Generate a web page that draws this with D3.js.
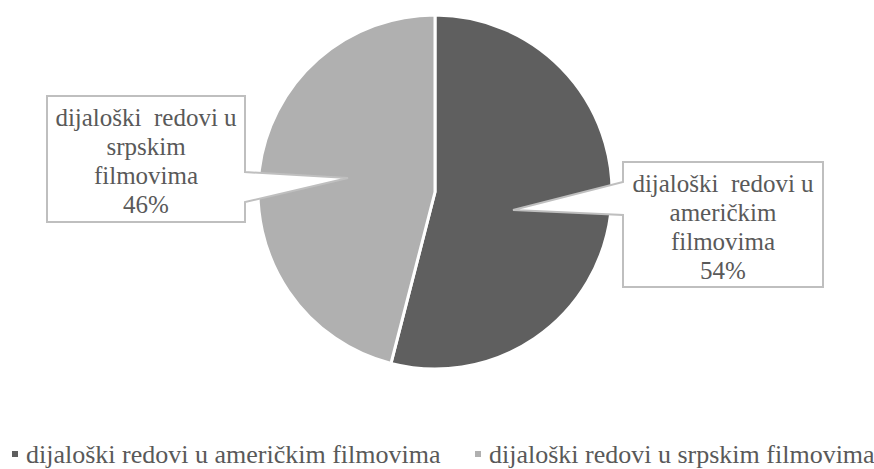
<!DOCTYPE html>
<html>
<head>
<meta charset="utf-8">
<script src="https://cdn.jsdelivr.net/npm/d3@7"></script>
<style>
  svg, svg text, svg tspan { font-family: "Liberation Serif" !important; }
</style>
</head>
<body style="margin:0; background:#fff;">
<svg class="chart" width="874" height="469" font-family="Liberation Serif"></svg>
<script>
var width = 874, height = 469;

var categories = ["dijaloški redovi u američkim filmovima", "dijaloški redovi u srpskim filmovima"];
var values = [54, 46];
var label_lines = [
  ["dijaloški  redovi u", "američkim", "filmovima"],
  ["dijaloški  redovi u", "srpskim", "filmovima"]
];
var colors = ["#5f5f5f", "#b0b0b0"];

var text_color = "#595959";

var cx = 435, cy = 192, radius = 177;

// callout boxes: box rect, pointer tip, pointer base (y range) on the side facing the pie
var callouts = [
  {x: 623, y: 162, w: 200, h: 125, side: "left", tip: [513, 210], base: [182, 215]},
  {x: 47, y: 96, w: 198, h: 126, side: "right", tip: [348, 178], base: [172, 202]}
];
var line_gap = 29;

var svg = d3.select("svg.chart");

var pie = d3.pie().sort(null).value(function(d){ return d; });
var arc = d3.arc().innerRadius(0).outerRadius(radius);

var g = svg.append("g").attr("transform", "translate(" + cx + "," + cy + ")");

g.selectAll(".slice")
    .data(pie(values))
  .enter().append("path")
    .attr("class", "slice")
    .attr("d", arc)
    .attr("fill", function(d, i){ return colors[i]; })
    .attr("stroke", "#fff")
    .attr("stroke-width", 3)
    .attr("stroke-linejoin", "round");

// callouts
callouts.forEach(function(c, i){
  var pts;
  if (c.side == "left") {
    pts = [[c.x, c.y], [c.x + c.w, c.y], [c.x + c.w, c.y + c.h], [c.x, c.y + c.h],
           [c.x, c.base[1]], c.tip, [c.x, c.base[0]]];
  } else {
    pts = [[c.x, c.y], [c.x + c.w, c.y], [c.x + c.w, c.base[0]], c.tip, [c.x + c.w, c.base[1]],
           [c.x + c.w, c.y + c.h], [c.x, c.y + c.h]];
  }
  svg.append("path")
      .attr("d", d3.line()(pts) + "Z")
      .attr("fill", "#fff")
      .attr("stroke", "#bfbfbf")
      .attr("stroke-width", 2);

  var lines = label_lines[i].concat([values[i] + "%"]);
  var tx = c.x + c.w / 2;
  var first = c.y + c.h / 2 - 1.5 * line_gap + 10.5;
  svg.append("text")
      .attr("text-anchor", "middle")
      .attr("font-size", 25)
      .attr("fill", text_color)
      .attr("xml:space", "preserve")
    .selectAll("tspan")
      .data(lines)
    .enter().append("tspan")
      .attr("x", tx)
      .attr("y", function(d, j){ return first + j * line_gap; })
      .text(function(d){ return d; });
});

// legend
var legend_x = [12, 475];
var leg = svg.selectAll(".legend")
    .data(categories)
  .enter().append("g")
    .attr("class", "legend")
    .attr("transform", function(d, i){ return "translate(" + legend_x[i] + ",463)"; });

leg.append("rect")
    .attr("x", 0).attr("y", -12)
    .attr("width", 6).attr("height", 6)
    .attr("fill", function(d, i){ return colors[i]; });

leg.append("text")
    .attr("x", 14)
    .attr("font-size", 26)
    .attr("fill", text_color)
    .text(function(d){ return d; });
</script>
</body>
</html>
